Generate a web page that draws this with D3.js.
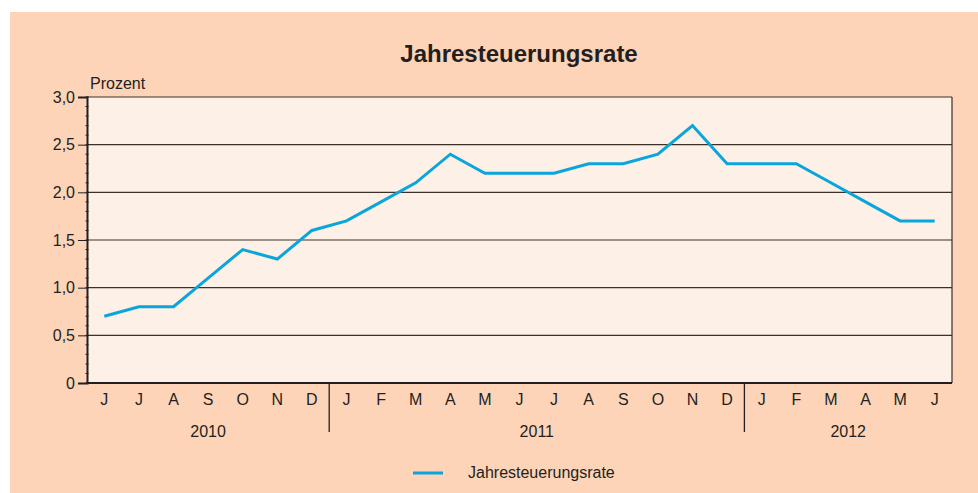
<!DOCTYPE html>
<html>
<head>
<meta charset="utf-8">
<script src="https://cdn.jsdelivr.net/npm/d3@7/dist/d3.min.js"></script>
<style>
  body { margin: 0; background: #fff; }
  text { font-family: "Liberation Sans", Arial, sans-serif; fill: #231f20; }
</style>
</head>
<body>
<div id="chart"></div>
<script>
// Juni 2010 bis Juni 2012
var months = ["J","J","A","S","O","N","D","J","F","M","A","M","J","J","A","S","O","N","D","J","F","M","A","M","J"];
var years = ["2010","2010","2010","2010","2010","2010","2010",
             "2011","2011","2011","2011","2011","2011","2011","2011","2011","2011","2011","2011",
             "2012","2012","2012","2012","2012","2012"];
var rate = [0.7,0.8,0.8,1.1,1.4,1.3,1.6,1.7,1.9,2.1,2.4,2.2,2.2,2.2,2.3,2.3,2.4,2.7,2.3,2.3,2.3,2.1,1.9,1.7,1.7];
var yTicks = [0, 0.5, 1.0, 1.5, 2.0, 2.5, 3.0];

var W = 978, H = 493;
var margin = { top: 97, right: 26, bottom: 110, left: 87 },
    width = W - margin.left - margin.right,
    height = H - margin.top - margin.bottom;

var svg = d3.select("#chart").append("svg")
    .attr("width", W)
    .attr("height", H);

svg.append("rect")
  .attr("x", 10).attr("y", 12)
  .attr("width", W - 10).attr("height", H - 12)
  .attr("fill", "#fdd4b8");

svg.append("text")
  .attr("x", 519).attr("y", 62)
  .attr("text-anchor", "middle")
  .style("font-size", "24px")
  .style("font-weight", "bold")
  .text("Jahresteuerungsrate");

var g = svg.append("g")
  .attr("transform", "translate(" + margin.left + "," + margin.top + ")");

var idx = d3.range(rate.length);
var x = d3.scaleBand().domain(idx).range([0, width]);
var y = d3.scaleLinear().domain([0, 3]).range([height, 0]);
var cx = function(i) { return x(i) + x.bandwidth() / 2; };

g.append("rect")
  .attr("width", width).attr("height", height)
  .attr("fill", "#fdf0e6");

// gridlines
g.selectAll(".grid")
  .data(yTicks.slice(1))
  .enter().append("line")
    .attr("x1", 0).attr("x2", width)
    .attr("y1", function(d) { return y(d); })
    .attr("y2", function(d) { return y(d); })
    .attr("stroke", "#3d3029")
    .attr("stroke-width", 1.2);

// right frame
g.append("line")
  .attr("x1", width).attr("x2", width)
  .attr("y1", 0).attr("y2", height)
  .attr("stroke", "#3d3029").attr("stroke-width", 1.2);

// minor ticks
g.selectAll(".minor")
  .data(d3.range(0, 3.001, 0.1))
  .enter().append("line")
    .attr("x1", -1.5).attr("x2", 1.5)
    .attr("y1", function(d) { return y(d); })
    .attr("y2", function(d) { return y(d); })
    .attr("stroke", "#231f20");

// y axis
var yAxis = g.append("g")
  .call(d3.axisLeft(y).tickValues(yTicks).tickSize(9).tickPadding(3)
    .tickFormat(function(d) { return d === 0 ? "0" : d3.format(".1f")(d).replace(".", ","); }));
yAxis.select(".domain").attr("stroke", "#231f20").attr("stroke-width", 2);
yAxis.selectAll(".tick line").attr("stroke", "#231f20");
yAxis.selectAll("text").style("font-size", "16px").attr("fill", "#231f20");

g.append("text")
  .attr("x", 3).attr("y", -8)
  .style("font-size", "16px")
  .text("Prozent");

// x axis
g.append("line")
  .attr("x1", -1).attr("x2", width)
  .attr("y1", height).attr("y2", height)
  .attr("stroke", "#231f20").attr("stroke-width", 2);

g.selectAll(".month")
  .data(idx)
  .enter().append("text")
    .attr("x", function(i) { return cx(i); })
    .attr("y", height + 22)
    .attr("text-anchor", "middle")
    .style("font-size", "16px")
    .text(function(i) { return months[i]; });

var yearGroups = d3.groups(idx, function(i) { return years[i]; });

// year separators
g.selectAll(".sep")
  .data(yearGroups.slice(1))
  .enter().append("line")
    .attr("x1", function(d) { return x(d[1][0]); })
    .attr("x2", function(d) { return x(d[1][0]); })
    .attr("y1", height).attr("y2", height + 49)
    .attr("stroke", "#231f20").attr("stroke-width", 1.3);

g.selectAll(".year")
  .data(yearGroups)
  .enter().append("text")
    .attr("x", function(d) { return (cx(d[1][0]) + cx(d[1][d[1].length - 1])) / 2; })
    .attr("y", height + 54)
    .attr("text-anchor", "middle")
    .style("font-size", "16px")
    .text(function(d) { return d[0]; });

// line
var line = d3.line()
  .x(function(d, i) { return cx(i); })
  .y(function(d) { return y(d); });

g.append("path")
  .datum(rate)
  .attr("fill", "none")
  .attr("stroke", "#0aa5dc")
  .attr("stroke-width", 3)
  .attr("stroke-linejoin", "miter")
  .attr("d", line);

// legend
svg.append("line")
  .attr("x1", 413).attr("x2", 443)
  .attr("y1", 473).attr("y2", 473)
  .attr("stroke", "#0aa5dc").attr("stroke-width", 3);
svg.append("text")
  .attr("x", 468).attr("y", 478)
  .style("font-size", "16px")
  .text("Jahresteuerungsrate");
</script>
</body>
</html>
